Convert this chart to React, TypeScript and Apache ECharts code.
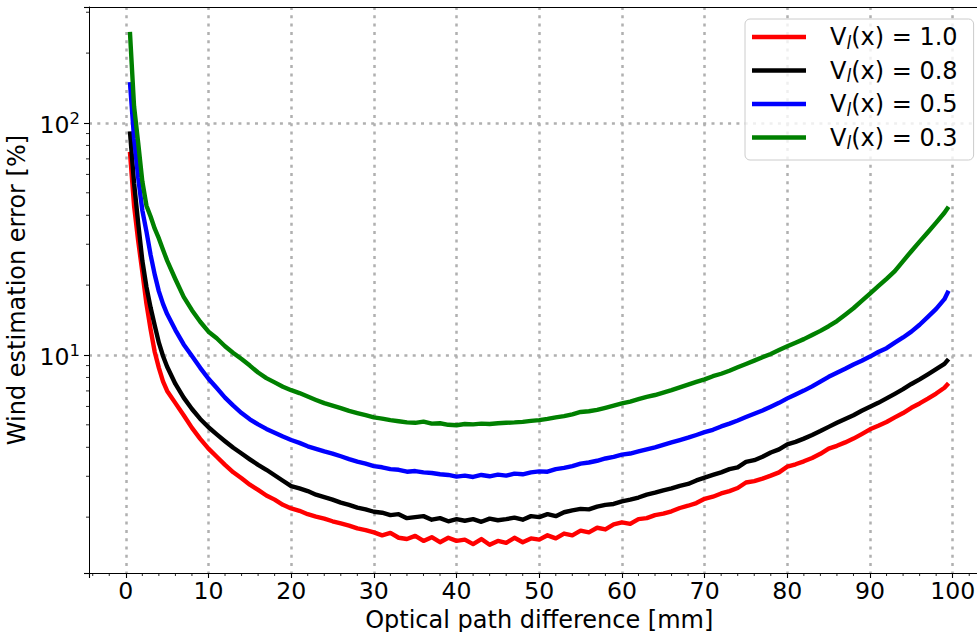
import React, { useEffect, useRef } from 'react';
import * as echarts from 'echarts';

const xValues = [
  0.5, 1, 1.5, 2, 2.5, 3, 3.5, 4, 4.5, 5,
  6, 7, 8, 9, 10, 11, 12, 13, 14, 15,
  16, 17, 18, 19, 20, 21, 22, 23, 24, 25,
  26, 27, 28, 29, 30, 31, 32, 33, 34, 35,
  36, 37, 38, 39, 40, 41, 42, 43, 44, 45,
  46, 47, 48, 49, 50, 51, 52, 53, 54, 55,
  56, 57, 58, 59, 60, 61, 62, 63, 64, 65,
  66, 67, 68, 69, 70, 71, 72, 73, 74, 75,
  76, 77, 78, 79, 80, 81, 82, 83, 84, 85,
  86, 87, 88, 89, 90, 91, 92, 93, 94, 95,
  96, 97, 98, 99, 99.5,
];

const v10 = [
  75, 44, 31, 22.8, 16.6, 12.9, 10.3, 8.8, 7.7, 7.0,
  6.2, 5.5, 4.85, 4.35, 3.95, 3.64, 3.36, 3.12, 2.94, 2.76,
  2.62, 2.48, 2.38, 2.26, 2.18, 2.13, 2.06, 2.01, 1.97, 1.92,
  1.88, 1.84, 1.79, 1.76, 1.72, 1.67, 1.71, 1.63, 1.61, 1.66,
  1.58, 1.64, 1.56, 1.63, 1.58, 1.60, 1.53, 1.61, 1.52, 1.58,
  1.55, 1.63, 1.56, 1.62, 1.60, 1.67, 1.62, 1.70, 1.67, 1.75,
  1.72, 1.80, 1.77, 1.86, 1.90, 1.87, 1.96, 1.98, 2.04, 2.07,
  2.12, 2.19, 2.24, 2.30, 2.40, 2.45, 2.53, 2.59, 2.67, 2.82,
  2.86, 2.93, 3.02, 3.12, 3.30, 3.38, 3.48, 3.60, 3.75, 3.95,
  4.06, 4.20, 4.36, 4.56, 4.78, 4.95, 5.14, 5.38, 5.62, 5.92,
  6.18, 6.48, 6.82, 7.22, 7.55,
];

const v08 = [
  92, 55, 37, 25.5, 19.6, 16.0, 13.4, 11.3, 9.9, 8.9,
  7.5, 6.55, 5.85, 5.3, 4.88, 4.55, 4.25, 3.98, 3.76, 3.55,
  3.36, 3.20, 3.03, 2.87, 2.72, 2.66, 2.59, 2.50, 2.44, 2.38,
  2.31, 2.26, 2.20, 2.16, 2.11, 2.09, 2.04, 2.06, 1.98, 2.00,
  2.02, 1.95, 1.98, 1.92, 1.96, 1.93, 1.96, 1.91, 1.97, 1.94,
  1.96, 1.99, 1.95, 2.02, 2.00, 2.06, 2.02, 2.10, 2.14, 2.17,
  2.16, 2.22, 2.26, 2.28, 2.34, 2.38, 2.43, 2.50, 2.55, 2.61,
  2.66, 2.73, 2.78, 2.88, 2.96, 3.04, 3.12, 3.22, 3.28, 3.46,
  3.52, 3.64, 3.80, 3.92, 4.12, 4.22, 4.36, 4.52, 4.70, 4.90,
  5.10, 5.30, 5.50, 5.75, 5.98, 6.22, 6.50, 6.80, 7.12, 7.50,
  7.85, 8.25, 8.68, 9.15, 9.6,
];

const v05 = [
  150, 86, 58, 42, 34, 27, 22.2, 18.8, 16.6, 15.0,
  12.8, 11.1, 9.9, 8.8, 7.9, 7.2, 6.55, 6.05, 5.62, 5.28,
  5.02, 4.80, 4.62, 4.45, 4.30, 4.18, 4.04, 3.94, 3.84, 3.76,
  3.66, 3.56, 3.47, 3.40, 3.32, 3.28, 3.22, 3.20, 3.14, 3.16,
  3.12, 3.10, 3.06, 3.04, 2.99, 3.02, 2.98, 3.04, 3.00, 3.05,
  3.02, 3.08, 3.06, 3.12, 3.15, 3.14, 3.22, 3.26, 3.32, 3.40,
  3.44, 3.50, 3.58, 3.64, 3.72, 3.76, 3.84, 3.92, 4.00, 4.10,
  4.20, 4.30, 4.40, 4.52, 4.65, 4.76, 4.92, 5.06, 5.22, 5.40,
  5.58, 5.76, 5.98, 6.22, 6.50, 6.76, 7.02, 7.32, 7.68, 8.05,
  8.38, 8.72, 9.10, 9.45, 9.84, 10.3, 10.7, 11.3, 11.9, 12.6,
  13.5, 14.6, 15.8, 17.4, 18.9,
];

const v03 = [
  247, 118, 82, 56, 44, 39.5, 35, 31.8, 28.4, 25.5,
  21.2, 17.8, 15.6, 13.9, 12.6, 11.8, 10.9, 10.2, 9.6, 9.0,
  8.4, 7.95, 7.62, 7.30, 7.05, 6.85, 6.62, 6.40, 6.20, 6.05,
  5.90, 5.74, 5.62, 5.50, 5.38, 5.32, 5.24, 5.18, 5.12, 5.10,
  5.16, 5.06, 5.08, 5.00, 4.98, 5.04, 5.02, 5.06, 5.04, 5.08,
  5.10, 5.12, 5.15, 5.20, 5.24, 5.30, 5.38, 5.45, 5.55, 5.68,
  5.72, 5.80, 5.92, 6.05, 6.18, 6.30, 6.45, 6.60, 6.72, 6.88,
  7.05, 7.25, 7.45, 7.65, 7.85, 8.10, 8.30, 8.55, 8.85, 9.15,
  9.45, 9.78, 10.1, 10.5, 10.9, 11.3, 11.7, 12.2, 12.7, 13.3,
  14.0, 14.9, 15.9, 17.1, 18.4, 19.8, 21.3, 23.0, 25.4, 28.0,
  30.8, 33.8, 37.2, 41.0, 43.5,
];

const seriesLabels = ['1.0', '0.8', '0.5', '0.3'];
const seriesValues = [v10, v08, v05, v03];
const seriesColors = ['#ff0000', '#000000', '#0000ff', '#008000'];

const xMinorTicks = [
  -4, -2, 2, 4, 6, 8, 12, 14, 16, 18, 22, 24, 26, 28, 32, 34, 36, 38,
  42, 44, 46, 48, 52, 54, 56, 58, 62, 64, 66, 68, 72, 74, 76, 78,
  82, 84, 86, 88, 92, 94, 96, 98, 102, 104,
];
const yMinorTicks = [2, 3, 4, 5, 6, 7, 8, 9, 20, 30, 40, 50, 60, 70, 80, 90, 200, 300];

const X_MIN = -4.45;
const X_MAX = 104.45;
const Y_MIN = 1.149;
const Y_MAX = 316;

const FONT = 'DejaVu Sans';

export default function App() {
  const ref = useRef<HTMLDivElement>(null);

  useEffect(() => {
    const chart = echarts.init(ref.current as HTMLDivElement, null, { renderer: 'svg' });
    const isPow10 = (v: number) => {
      const e = Math.log10(v);
      return Math.abs(e - Math.round(e)) < 1e-6;
    };
    const gridLine = { color: '#b0b0b0', width: 2.5, type: [3, 5.3] as number[] };
    const spine = { show: true, onZero: false, lineStyle: { color: '#000000', width: 1 } };

    const lineSeries = seriesLabels.map((label, i) => ({
      type: 'line',
      name: label,
      xAxisIndex: 0,
      data: xValues.map((x, j) => [x, seriesValues[i][j]]),
      showSymbol: false,
      symbol: 'none',
      lineStyle: { color: seriesColors[i], width: 4.4, join: 'round' },
      itemStyle: { color: seriesColors[i] },
      z: 3 + i,
    }));

    const minorData = [
      ...yMinorTicks.map((v) => [X_MIN, v, 0]),
      ...xMinorTicks.map((v) => [v, Y_MIN, 1]),
    ];

    const option = {
      animation: false,
      backgroundColor: '#ffffff',
      textStyle: { fontFamily: FONT },
      grid: {
        left: 89,
        top: 7,
        width: 900.5,
        height: 566,
        containLabel: false,
        outerBoundsMode: 'none',
        show: false,
      },
      legend: {
        data: seriesLabels,
        orient: 'vertical',
        left: 745,
        top: 19,
        padding: [6, 16, 8.5, 7],
        itemGap: 7.5,
        itemWidth: 54,
        itemHeight: 4.5,
        icon: 'rect',
        borderColor: '#cccccc',
        borderWidth: 1,
        borderRadius: 5,
        backgroundColor: 'rgba(255,255,255,0.8)',
        selectedMode: false,
        formatter: (name: string) => `{sp| }{v|V}{sub|l}{v|(x) = ${name}}`,
        textStyle: {
          fontFamily: FONT,
          fontSize: 24,
          color: '#000000',
          rich: {
            sp: { width: 19, fontSize: 24, lineHeight: 28 },
            v: { fontSize: 24, lineHeight: 28, fontFamily: FONT, color: '#000000' },
            sub: {
              fontSize: 17,
              lineHeight: 17,
              fontStyle: 'italic',
              verticalAlign: 'bottom',
              fontFamily: FONT,
              color: '#000000',
            },
          },
        },
      },
      xAxis: [
        {
          type: 'value',
          min: X_MIN,
          max: X_MAX,
          splitNumber: 11,
          axisLine: spine,
          axisTick: { show: true, inside: false, length: 5, lineStyle: { color: '#000000', width: 1.1 } },
          axisLabel: {
            fontFamily: FONT,
            fontSize: 23.6,
            color: '#000000',
            margin: 6,
            formatter: (v: number) =>
              Math.abs(v / 10 - Math.round(v / 10)) < 1e-6 ? String(Math.round(v)) : '',
          },
          splitLine: { show: true, showMinLine: false, showMaxLine: false, lineStyle: gridLine },
          name: 'Optical path difference [mm]',
          nameLocation: 'middle',
          nameGap: 28,
          nameTextStyle: { fontFamily: FONT, fontSize: 24, lineHeight: 24, color: '#000000' },
        },
        {
          type: 'value',
          position: 'top',
          min: X_MIN,
          max: X_MAX,
          splitNumber: 11,
          axisLine: spine,
          axisTick: { show: false },
          axisLabel: { show: false },
          splitLine: { show: false },
        },
      ],
      yAxis: {
        type: 'log',
        logBase: 10,
        min: Y_MIN,
        max: Y_MAX,
        axisLine: spine,
        axisTick: { show: true, inside: false, length: 5, lineStyle: { color: '#000000', width: 1.1 } },
        axisLabel: {
          margin: 9,
          padding: [4, 0, 0, 0],
          formatter: (v: number) =>
            isPow10(v) ? `{b|10}{sup|${Math.round(Math.log10(v))}}` : '',
          rich: {
            b: { fontFamily: FONT, fontSize: 23.6, lineHeight: 30, color: '#000000' },
            sup: { fontFamily: FONT, fontSize: 16.5, lineHeight: 16.8, verticalAlign: 'top', color: '#000000' },
          },
        },
        splitLine: { show: true, showMinLine: false, showMaxLine: false, lineStyle: gridLine },
        name: 'Wind estimation error [%]',
        nameLocation: 'middle',
        nameGap: 52,
        nameTextStyle: { fontFamily: FONT, fontSize: 24, color: '#000000' },
      },
      series: [
        {
          type: 'custom',
          silent: true,
          clip: false,
          z: 2,
          xAxisIndex: 0,
          data: minorData,
          encode: { x: 0, y: 1 },
          renderItem: (_params: any, api: any) => {
            const p = api.coord([api.value(0), api.value(1)]);
            const kind = api.value(2);
            const shape =
              kind === 0
                ? { x1: p[0], y1: p[1], x2: p[0] - 3, y2: p[1] }
                : { x1: p[0], y1: p[1], x2: p[0], y2: p[1] + 3 };
            return { type: 'line', shape, style: { stroke: '#000000', lineWidth: 0.85 } };
          },
        },
        ...lineSeries,
      ],
    };

    chart.setOption(option as any);
    return () => {
      chart.dispose();
    };
  }, []);

  return (
    <div
      ref={ref}
      style={{ position: 'fixed', left: 0, top: 0, width: 977, height: 632, background: '#fff' }}
    />
  );
}
